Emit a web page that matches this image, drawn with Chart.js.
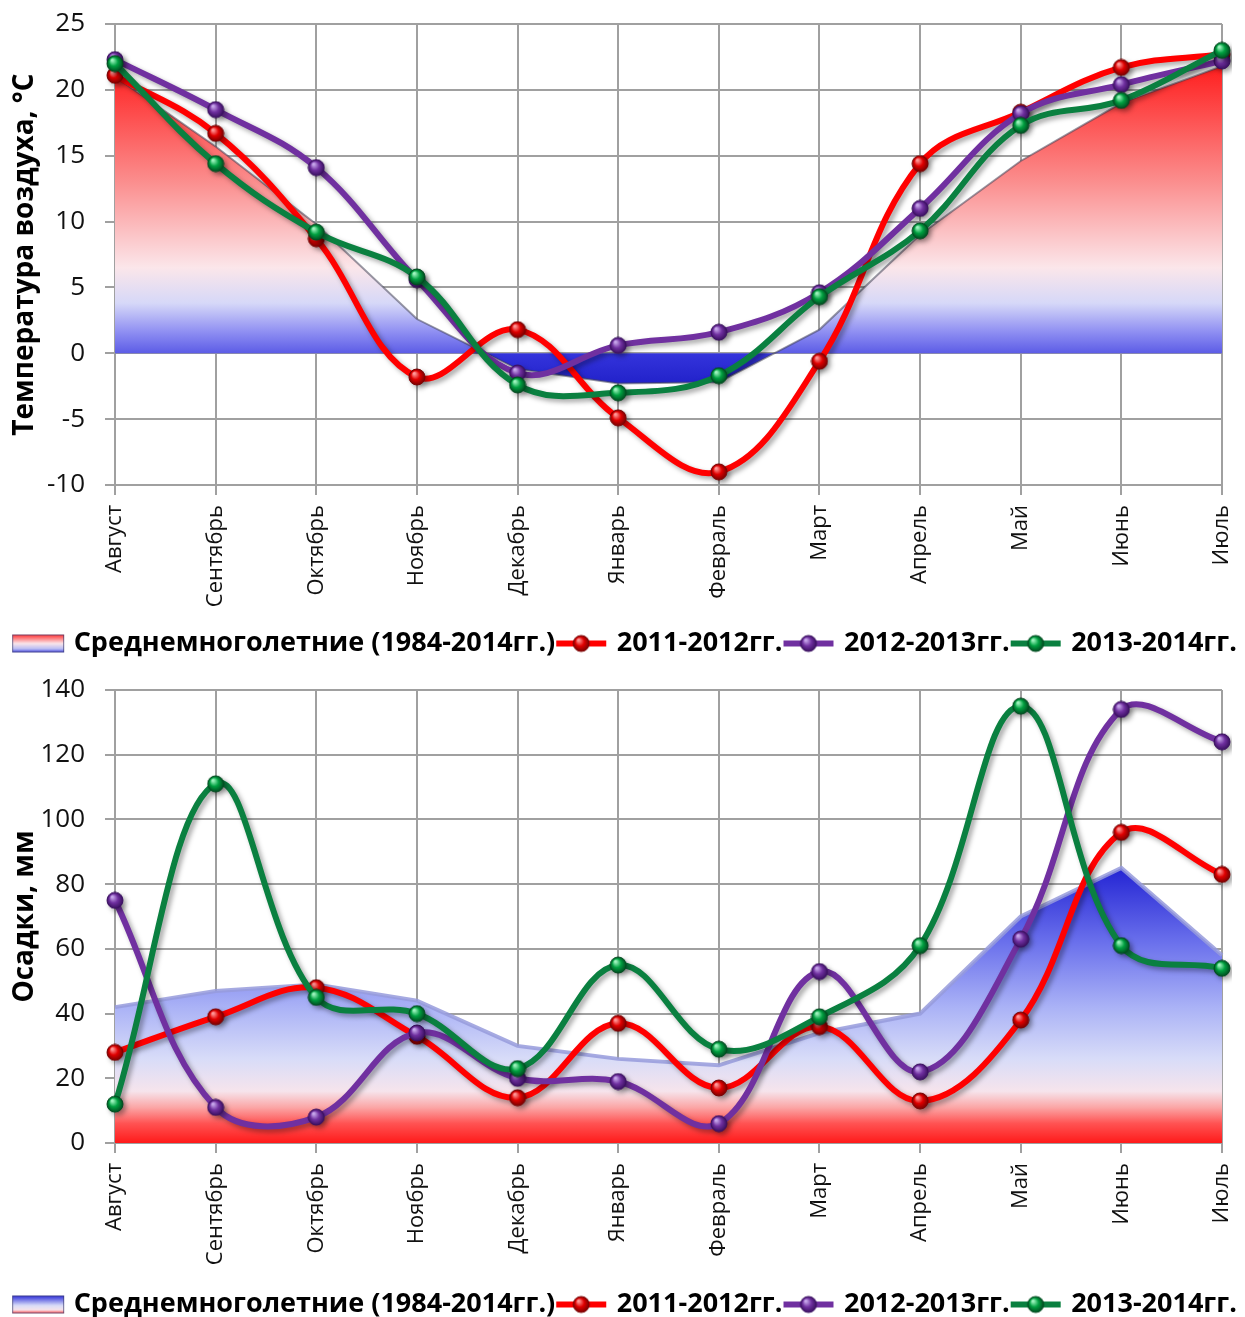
<!DOCTYPE html>
<html>
<head>
<meta charset="utf-8">
<script src="https://cdn.jsdelivr.net/npm/chart.js@4"></script>
<style>
  html, body { margin: 0; padding: 0; background: #fff; overflow: hidden; }
  .box { position: absolute; left: 0; width: 1245px; }
  canvas { display: block; }
</style>
</head>
<body>
<div class="box" style="top:0"><canvas id="tempChart" width="1245" height="670"></canvas></div>
<div class="box" style="top:660px"><canvas id="precChart" width="1245" height="670"></canvas></div>
<script>
const months = ['Август', 'Сентябрь', 'Октябрь', 'Ноябрь', 'Декабрь', 'Январь',
                'Февраль', 'Март', 'Апрель', 'Май', 'Июнь', 'Июль'];
const seriesNames = ['Среднемноголетние (1984-2014гг.)', '2011-2012гг.', '2012-2013гг.', '2013-2014гг.'];

// air temperature, °C
const tempMean = [21.0, 15.7, 9.8, 2.6, -1.2, -2.3, -2.2, 1.8, 9.0, 14.6, 19.0, 21.8];
const temp1112 = [21.1, 16.7, 8.7, -1.8, 1.8, -4.9, -9.0, -0.6, 14.4, 18.3, 21.7, 22.7];
const temp1213 = [22.3, 18.5, 14.1, 5.6, -1.5, 0.6, 1.6, 4.6, 11.0, 18.2, 20.4, 22.2];
const temp1314 = [22.0, 14.4, 9.2, 5.8, -2.4, -3.0, -1.7, 4.3, 9.3, 17.3, 19.2, 23.0];
const tempTicks = {min: -10, max: 25, step: 5};

// precipitation, mm
const precMean = [42, 47, 49, 44, 30, 26, 24, 34, 40, 70, 85, 58];
const prec1112 = [28, 39, 48, 33, 14, 37, 17, 36, 13, 38, 96, 83];
const prec1213 = [75, 11, 8, 34, 20, 19, 6, 53, 22, 63, 134, 124];
const prec1314 = [12, 111, 45, 40, 23, 55, 29, 39, 61, 135, 61, 54];
const precTicks = {min: 0, max: 140, step: 20};

const RED = '#ff0000', PURPLE = '#7030a0', GREEN = '#0a8040';
const GRID = '#a0a0a0';
const FONT = '"Open Sans", "Noto Sans", sans-serif';
const LEFT_PAD = 8;

function makeBall(base, light, dark, r) {
  const c = document.createElement('canvas');
  const s = Math.ceil(r * 2 + 2);
  c.width = c.height = s;
  const g = c.getContext('2d');
  const cx = s / 2, cy = s / 2;
  const grad = g.createRadialGradient(cx - r * 0.35, cy - r * 0.45, r * 0.1, cx, cy, r);
  grad.addColorStop(0, light);
  grad.addColorStop(0.5, base);
  grad.addColorStop(1, dark);
  g.fillStyle = grad;
  g.beginPath();
  g.arc(cx, cy, r, 0, Math.PI * 2);
  g.fill();
  g.lineWidth = 1;
  g.strokeStyle = dark;
  g.stroke();
  return c;
}

function makeLineIcon(color, ball) {
  const c = document.createElement('canvas');
  c.width = 54; c.height = 22;
  const g = c.getContext('2d');
  g.strokeStyle = color;
  g.lineWidth = 6;
  g.beginPath();
  g.moveTo(2, 11); g.lineTo(52, 11);
  g.stroke();
  g.drawImage(ball, 27 - ball.width / 2, 11 - ball.height / 2);
  return c;
}

function makeAreaIcon(stops) {
  const c = document.createElement('canvas');
  c.width = 54; c.height = 20;
  const g = c.getContext('2d');
  const grad = g.createLinearGradient(0, 1, 0, 19);
  stops.forEach(([p, col]) => grad.addColorStop(p, col));
  g.fillStyle = grad;
  g.fillRect(1, 1, 52, 18);
  g.strokeStyle = 'rgba(60,60,110,0.7)';
  g.lineWidth = 1;
  g.strokeRect(1.5, 1.5, 51, 17);
  return c;
}

const redBall = makeBall('#e00000', '#ff9a9a', '#7a0000', 8);
const purpleBall = makeBall('#7030a0', '#c8a8ec', '#3a1060', 8);
const greenBall = makeBall('#00a040', '#a0f5c0', '#004c20', 8);

// red on top, blue at zero, dark blue below zero
function tempFill(context) {
  const chart = context.chart;
  if (!chart.chartArea) return 'rgba(0,0,0,0)';
  const y = chart.scales.y;
  const top = y.getPixelForValue(22), bottom = y.getPixelForValue(-3);
  const f = v => (y.getPixelForValue(v) - top) / (bottom - top);
  const g = chart.ctx.createLinearGradient(0, top, 0, bottom);
  g.addColorStop(0, '#ff1c1c');
  g.addColorStop(f(13), '#fb8e8e');
  g.addColorStop(f(6.5), '#fbe6ea');
  g.addColorStop(f(3.8), '#d6d8f8');
  g.addColorStop(f(1.6), '#8e8ef2');
  g.addColorStop(f(0), '#5c5ce6');
  g.addColorStop(f(0) + 0.001, '#3434dc');
  g.addColorStop(1, '#1c1cc4');
  return g;
}

// dark blue on top, white in the middle, red near zero
function precFill(context) {
  const chart = context.chart;
  if (!chart.chartArea) return 'rgba(0,0,0,0)';
  const y = chart.scales.y;
  const top = y.getPixelForValue(88), bottom = y.getPixelForValue(0);
  const f = v => (y.getPixelForValue(v) - top) / (bottom - top);
  const g = chart.ctx.createLinearGradient(0, top, 0, bottom);
  g.addColorStop(0, '#1a1ad0');
  g.addColorStop(f(62), '#6a70ec');
  g.addColorStop(f(42), '#aab2f6');
  g.addColorStop(f(26), '#d8dcf8');
  g.addColorStop(f(16), '#f6e4ec');
  g.addColorStop(f(11), '#fba6a6');
  g.addColorStop(f(6), '#ff5252');
  g.addColorStop(1, '#ff1a1a');
  return g;
}

const lineShadow = {
  id: 'lineShadow',
  beforeDatasetDraw(chart, args) {
    if (args.index === 0) return;
    const c = chart.ctx;
    c.save();
    c.shadowColor = 'rgba(0,0,0,0.35)';
    c.shadowBlur = 5;
    c.shadowOffsetX = 3;
    c.shadowOffsetY = 3;
  },
  afterDatasetDraw(chart, args) {
    if (args.index === 0) return;
    chart.ctx.restore();
  }
};

function lineSet(label, data, color, ball, icon, order) {
  return {
    label, data, order,
    borderColor: color,
    backgroundColor: color,
    borderWidth: 6,
    tension: 0.38,
    fill: false,
    pointStyle: ball,
    legendIcon: icon
  };
}

function buildChart(id, cfg) {
  return new Chart(document.getElementById(id), {
    type: 'line',
    data: {
      labels: months,
      datasets: [
        {
          label: seriesNames[0], data: cfg.mean, order: 4,
          fill: 'origin', tension: 0, pointRadius: 0,
          backgroundColor: cfg.fill,
          borderColor: cfg.edge, borderWidth: cfg.edgeWidth,
          legendIcon: cfg.areaIcon
        },
        lineSet(seriesNames[1], cfg.s1, RED, redBall, makeLineIcon(RED, redBall), 3),
        lineSet(seriesNames[2], cfg.s2, PURPLE, purpleBall, makeLineIcon(PURPLE, purpleBall), 2),
        lineSet(seriesNames[3], cfg.s3, GREEN, greenBall, makeLineIcon(GREEN, greenBall), 1)
      ]
    },
    options: {
      responsive: false,
      animation: false,
      events: [],
      layout: {padding: {left: LEFT_PAD, right: 0, top: cfg.padTop, bottom: cfg.padBottom}},
      scales: {
        x: {
          offset: false,
          grid: {color: GRID, lineWidth: 2, tickLength: 10, offset: false},
          border: {color: GRID, width: 2},
          ticks: {
            autoSkip: false, minRotation: 90, maxRotation: 90, padding: 10,
            color: '#111', font: {family: FONT, size: 22}
          },
          afterFit: s => {
            s.height = cfg.xHeight;
            s.paddingLeft = 0;
            s.paddingRight = 23;
          }
        },
        y: {
          min: cfg.ticks.min, max: cfg.ticks.max,
          grid: {color: GRID, lineWidth: 2, tickLength: 10},
          border: {color: GRID, width: 2},
          ticks: {stepSize: cfg.ticks.step, padding: 20, color: '#111', font: {family: FONT, size: 26}},
          title: {
            display: true, text: cfg.title, color: '#000',
            font: {family: FONT, size: 28, weight: 'bold'}, padding: {top: 0, bottom: 0}
          },
          afterFit: s => {
            s.width = 115 - LEFT_PAD;
            s.paddingTop = 0;
            s.paddingBottom = 0;
          }
        }
      },
      plugins: {
        tooltip: {enabled: false},
        legend: {
          position: 'bottom',
          labels: {
            usePointStyle: true,
            pointStyleWidth: 44,
            padding: 4,
            color: '#000',
            font: {family: FONT, size: 27, weight: 'bold'},
            generateLabels: chart => chart.data.datasets.map((ds, i) => ({
              text: ds.label,
              pointStyle: ds.legendIcon,
              datasetIndex: i,
              fontColor: '#000',
              fillStyle: 'rgba(0,0,0,0)',
              strokeStyle: 'rgba(0,0,0,0)',
              lineWidth: 0,
              hidden: false
            }))
          }
        }
      }
    },
    plugins: [lineShadow]
  });
}

buildChart('tempChart', {
  mean: tempMean, s1: temp1112, s2: temp1213, s3: temp1314,
  ticks: tempTicks,
  title: 'Температура воздуха, °C',
  fill: tempFill,
  edge: 'rgba(70,70,90,0.55)', edgeWidth: 2,
  areaIcon: makeAreaIcon([[0, '#ff3030'], [0.5, '#fbe6ea'], [0.8, '#b8bcf4'], [1, '#3a3adc']]),
  padTop: 24, padBottom: 3, xHeight: 141
});

buildChart('precChart', {
  mean: precMean, s1: prec1112, s2: prec1213, s3: prec1314,
  ticks: precTicks,
  title: 'Осадки, мм',
  fill: precFill,
  edge: 'rgba(150,155,220,0.85)', edgeWidth: 4,
  areaIcon: makeAreaIcon([[0, '#2a2ad8'], [0.55, '#d8dcf8'], [0.8, '#f6e4ec'], [1, '#ff4040']]),
  padTop: 30, padBottom: 2, xHeight: 144
});
</script>
</body>
</html>
